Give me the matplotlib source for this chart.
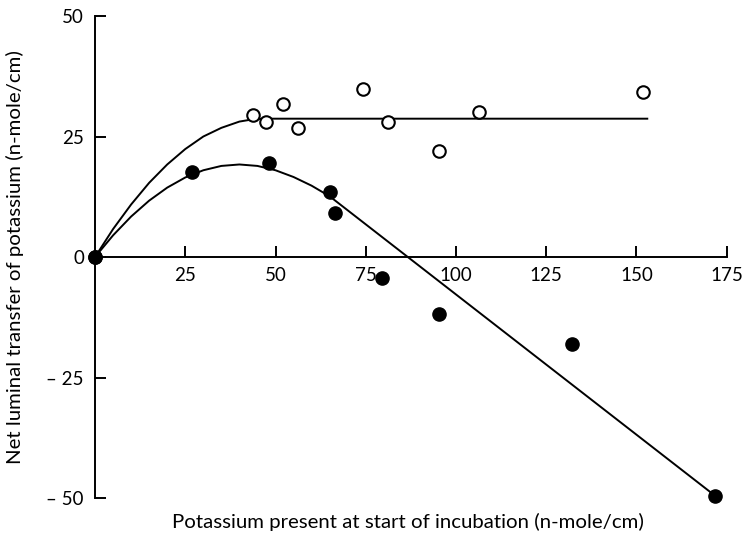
import numpy as np
import matplotlib
matplotlib.use('Agg')
import matplotlib.pyplot as plt

plt.rcParams['font.family'] = ['Lato', 'DejaVu Sans']

# open circles
kalium_open = [0, 43.8, 47.4, 52.1, 56.2, 74.2, 81.2, 95.3, 106.3, 151.7]
transfer_open = [0, 29.5, 28.0, 31.7, 26.8, 34.9, 28.0, 22.0, 30.0, 34.3]

# filled circles
kalium_plin = [0, 26.9, 48.2, 65.1, 66.5, 79.6, 95.2, 132.1, 171.9]
transfer_plin = [0, 17.6, 19.5, 13.5, 9.1, -4.4, -11.9, -18.0, -49.6]

# curbe trasate
curba_sus_x = [0, 5, 10, 15, 20, 25, 30, 35, 40, 44, 47, 153]
curba_sus_y = [0, 5.8, 10.9, 15.4, 19.2, 22.4, 25.0, 26.8, 28.1, 28.6, 28.7, 28.7]
curba_jos_x = [0, 5, 10, 15, 20, 25, 30, 35, 40, 45, 50, 55, 60, 65, 171.9]
curba_jos_y = [0, 4.5, 8.4, 11.7, 14.4, 16.5, 18.0, 18.9, 19.2, 18.9, 18.0, 16.6, 14.8, 12.6, -49.6]

xticks = [25, 50, 75, 100, 125, 150, 175]
yticks = [-50, -25, 0, 25, 50]
ytick_labels = ['\u2013 50', '\u2013 25', '0', '25', '50']

fig = plt.figure(figsize=(7.43, 5.34), dpi=100)
ax = fig.add_axes([0.1279, 0.0674, 0.855, 0.9026])

ax.plot(curba_sus_x, curba_sus_y, color='black', lw=1.4, clip_on=False)
ax.plot(curba_jos_x, curba_jos_y, color='black', lw=1.4, clip_on=False)
ax.plot(kalium_open, transfer_open, 'o', ms=9, mfc='white', mec='black', mew=1.5, clip_on=False, zorder=3)
ax.plot(kalium_plin, transfer_plin, 'o', ms=9.5, mfc='black', mec='black', clip_on=False, zorder=4)

ax.set_xlim(0, 176)
ax.set_ylim(-50, 50)

ax.spines['top'].set_visible(False)
ax.spines['right'].set_visible(False)
ax.spines['bottom'].set_position(('data', 0))
ax.spines['bottom'].set_bounds(3, 175)
ax.spines['left'].set_linewidth(1.4)
ax.spines['bottom'].set_linewidth(1.4)

ax.set_xticks(xticks)
ax.set_xticklabels([str(t) for t in xticks])
ax.set_yticks(yticks)
ax.set_yticklabels(ytick_labels)
ax.tick_params(axis='x', direction='in', length=8, width=1.4, pad=7, labelsize=13.5)
ax.tick_params(axis='y', direction='in', length=8, width=1.4, pad=8, labelsize=13.5)

ax.set_xlabel('Potassium present at start of incubation (n-mole/cm)', fontsize=14.7)
ax.xaxis.set_label_coords(0.492, -0.03)
ax.set_ylabel('Net luminal transfer of potassium (n-mole/cm)', fontsize=14.7)
ax.yaxis.set_label_coords(-0.112, 0.5)

fig.savefig('out.png', dpi=100)
